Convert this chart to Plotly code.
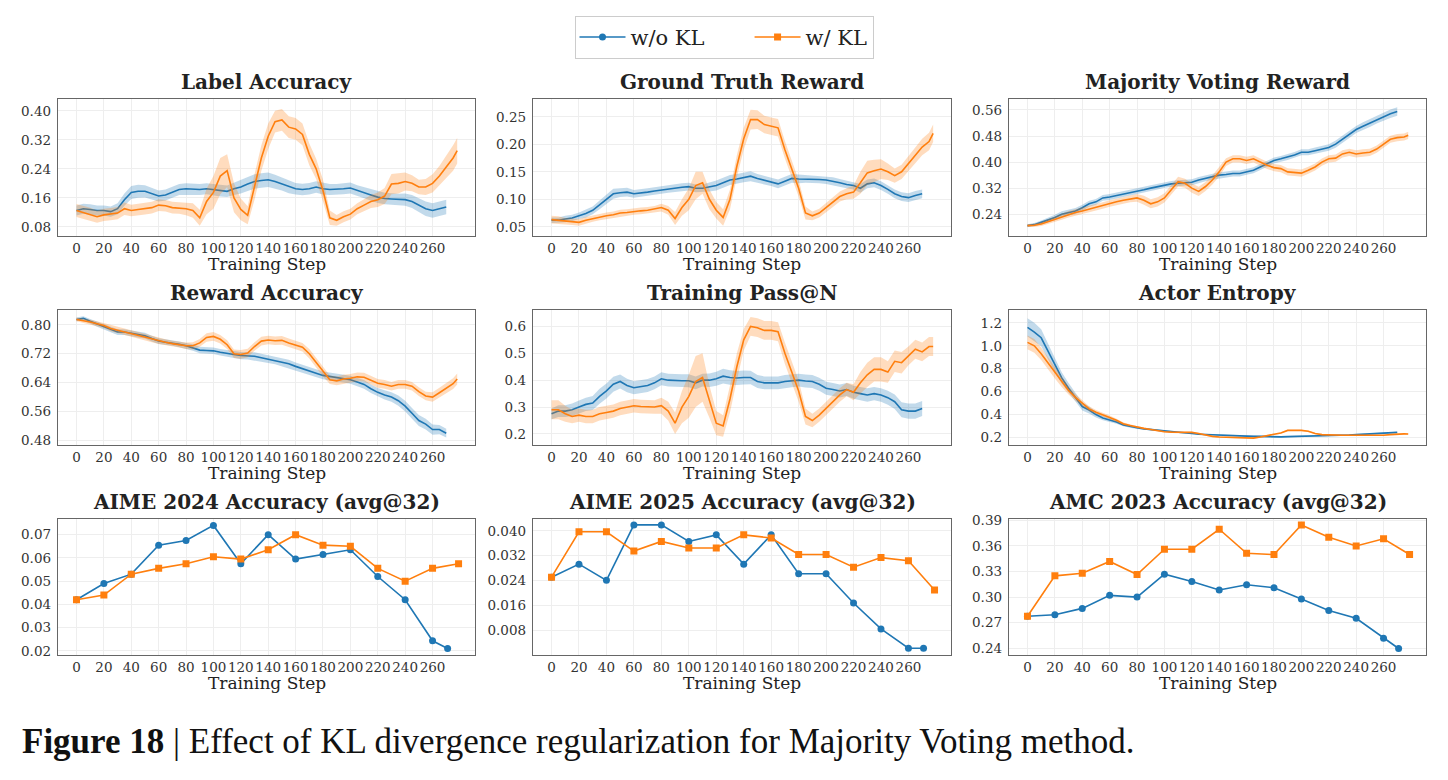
import plotly.graph_objects as go

# ---------------- data ----------------
STEPS_WO = list(range(0, 271, 5))            # training steps, w/o KL
STEPS_W = list(range(0, 276, 5)) + [278]     # training steps, w/ KL
EVAL_WO = [0, 20, 40, 60, 80, 100, 120, 140, 160, 180, 200, 220, 240, 260, 271]
EVAL_W = [0, 20, 40, 60, 80, 100, 120, 140, 160, 180, 200, 220, 240, 260, 279]

# Label Accuracy
label_acc_wo = [0.125, 0.130, 0.128, 0.125, 0.125, 0.122, 0.130, 0.155, 0.175, 0.178,
                0.178, 0.172, 0.165, 0.168, 0.175, 0.183, 0.185, 0.183, 0.183, 0.185,
                0.183, 0.180, 0.178, 0.185, 0.190, 0.198, 0.205, 0.208, 0.210, 0.205,
                0.198, 0.190, 0.185, 0.183, 0.185, 0.190, 0.185, 0.183, 0.183, 0.185,
                0.187, 0.180, 0.175, 0.168, 0.162, 0.158, 0.157, 0.155, 0.155, 0.150,
                0.140, 0.130, 0.125, 0.130, 0.135]
label_acc_wo_sd = [0.014, 0.014, 0.014, 0.014, 0.014, 0.014, 0.015, 0.017, 0.018, 0.018,
                   0.017, 0.016, 0.015, 0.015, 0.015, 0.015, 0.015, 0.015, 0.015, 0.015,
                   0.016, 0.016, 0.016, 0.017, 0.018, 0.019, 0.020, 0.020, 0.020, 0.019,
                   0.018, 0.017, 0.016, 0.016, 0.016, 0.016, 0.016, 0.015, 0.015, 0.015,
                   0.015, 0.015, 0.015, 0.016, 0.016, 0.016, 0.016, 0.016, 0.017, 0.018,
                   0.019, 0.020, 0.020, 0.020, 0.020]
label_acc_w = [0.125, 0.120, 0.115, 0.108, 0.113, 0.115, 0.118, 0.130, 0.125, 0.128,
               0.130, 0.133, 0.140, 0.138, 0.133, 0.132, 0.130, 0.125, 0.105, 0.150,
               0.175, 0.220, 0.235, 0.160, 0.128, 0.112, 0.190, 0.270, 0.330, 0.370,
               0.375, 0.355, 0.350, 0.335, 0.280, 0.240, 0.180, 0.105, 0.098, 0.108,
               0.115, 0.130, 0.140, 0.150, 0.155, 0.165, 0.198, 0.200, 0.205, 0.200,
               0.190, 0.190, 0.200, 0.220, 0.245, 0.270, 0.290]
label_acc_w_sd = [0.018, 0.018, 0.018, 0.017, 0.017, 0.017, 0.017, 0.017, 0.016, 0.016,
                  0.016, 0.016, 0.016, 0.016, 0.016, 0.016, 0.018, 0.020, 0.022, 0.035,
                  0.045, 0.050, 0.045, 0.040, 0.030, 0.025, 0.035, 0.035, 0.035, 0.030,
                  0.030, 0.030, 0.030, 0.030, 0.030, 0.028, 0.030, 0.020, 0.015, 0.015,
                  0.015, 0.015, 0.016, 0.018, 0.020, 0.022, 0.028, 0.028, 0.025, 0.022,
                  0.020, 0.022, 0.025, 0.028, 0.030, 0.035, 0.035]

# Ground Truth Reward
gt_reward_wo = [0.062, 0.062, 0.064, 0.066, 0.070, 0.074, 0.080, 0.090, 0.100, 0.110,
                0.112, 0.113, 0.110, 0.111, 0.113, 0.115, 0.117, 0.119, 0.120, 0.122,
                0.123, 0.120, 0.120, 0.122, 0.125, 0.130, 0.135, 0.137, 0.140, 0.142,
                0.138, 0.135, 0.132, 0.128, 0.133, 0.138, 0.137, 0.137, 0.137, 0.136,
                0.135, 0.133, 0.130, 0.127, 0.125, 0.120, 0.128, 0.130, 0.125, 0.118,
                0.110, 0.105, 0.103, 0.107, 0.110]
gt_reward_wo_sd = [0.005, 0.005, 0.006, 0.006, 0.006, 0.007, 0.007, 0.008, 0.009, 0.009,
                   0.008, 0.008, 0.007, 0.007, 0.007, 0.007, 0.007, 0.007, 0.007, 0.007,
                   0.007, 0.007, 0.007, 0.008, 0.009, 0.009, 0.009, 0.009, 0.009, 0.009,
                   0.008, 0.008, 0.008, 0.008, 0.008, 0.008, 0.008, 0.007, 0.007, 0.007,
                   0.007, 0.007, 0.007, 0.007, 0.007, 0.008, 0.008, 0.008, 0.008, 0.008,
                   0.008, 0.008, 0.008, 0.008, 0.008]
gt_reward_w = [0.063, 0.062, 0.060, 0.059, 0.058, 0.062, 0.065, 0.068, 0.070, 0.072,
               0.075, 0.076, 0.078, 0.079, 0.080, 0.082, 0.085, 0.080, 0.065, 0.085,
               0.100, 0.125, 0.130, 0.100, 0.080, 0.067, 0.100, 0.160, 0.210, 0.245,
               0.245, 0.236, 0.233, 0.230, 0.190, 0.155, 0.120, 0.075, 0.070, 0.075,
               0.085, 0.095, 0.105, 0.110, 0.113, 0.130, 0.148, 0.152, 0.155, 0.150,
               0.143, 0.150, 0.165, 0.180, 0.195, 0.205, 0.220]
gt_reward_w_sd = [0.007, 0.007, 0.006, 0.006, 0.006, 0.006, 0.006, 0.006, 0.006, 0.006,
                  0.006, 0.006, 0.006, 0.006, 0.006, 0.006, 0.007, 0.008, 0.012, 0.015,
                  0.020, 0.025, 0.020, 0.018, 0.015, 0.015, 0.018, 0.020, 0.020, 0.018,
                  0.017, 0.016, 0.016, 0.016, 0.016, 0.015, 0.015, 0.012, 0.008, 0.008,
                  0.008, 0.009, 0.009, 0.010, 0.012, 0.020, 0.022, 0.020, 0.018, 0.015,
                  0.013, 0.013, 0.014, 0.015, 0.015, 0.016, 0.016]

# Majority Voting Reward
mv_reward_wo = [0.205, 0.208, 0.215, 0.222, 0.230, 0.240, 0.245, 0.250, 0.260, 0.272,
                0.278, 0.290, 0.293, 0.297, 0.302, 0.306, 0.310, 0.315, 0.320, 0.325,
                0.330, 0.333, 0.335, 0.337, 0.338, 0.345, 0.350, 0.355, 0.360, 0.362,
                0.365, 0.365, 0.370, 0.375, 0.385, 0.395, 0.405, 0.410, 0.415, 0.422,
                0.430, 0.430, 0.435, 0.440, 0.445, 0.455, 0.470, 0.485, 0.500, 0.510,
                0.520, 0.530, 0.540, 0.548, 0.555]
mv_reward_wo_sd = [0.004, 0.005, 0.006, 0.007, 0.008, 0.009, 0.009, 0.009, 0.009, 0.009,
                   0.009, 0.009, 0.009, 0.009, 0.009, 0.009, 0.009, 0.009, 0.009, 0.009,
                   0.009, 0.009, 0.009, 0.009, 0.009, 0.009, 0.009, 0.009, 0.009, 0.009,
                   0.009, 0.009, 0.009, 0.009, 0.009, 0.009, 0.009, 0.009, 0.009, 0.009,
                   0.009, 0.009, 0.010, 0.010, 0.010, 0.011, 0.011, 0.011, 0.011, 0.012,
                   0.012, 0.012, 0.013, 0.013, 0.013]
mv_reward_w = [0.205, 0.206, 0.210, 0.217, 0.225, 0.232, 0.240, 0.245, 0.250, 0.256,
               0.262, 0.267, 0.273, 0.278, 0.283, 0.287, 0.290, 0.283, 0.272, 0.278,
               0.290, 0.315, 0.340, 0.335, 0.320, 0.310, 0.325, 0.345, 0.370, 0.400,
               0.410, 0.410, 0.405, 0.410, 0.400, 0.390, 0.383, 0.380, 0.370, 0.368,
               0.366, 0.375, 0.385, 0.400, 0.410, 0.412, 0.425, 0.430, 0.425, 0.428,
               0.430, 0.440, 0.455, 0.470, 0.475, 0.477, 0.482]
mv_reward_w_sd = [0.004, 0.005, 0.006, 0.007, 0.008, 0.009, 0.010, 0.010, 0.010, 0.010,
                  0.010, 0.010, 0.010, 0.010, 0.010, 0.010, 0.012, 0.014, 0.014, 0.014,
                  0.014, 0.015, 0.015, 0.014, 0.014, 0.014, 0.014, 0.014, 0.014, 0.012,
                  0.011, 0.011, 0.011, 0.011, 0.011, 0.011, 0.011, 0.011, 0.011, 0.011,
                  0.011, 0.011, 0.011, 0.011, 0.011, 0.011, 0.011, 0.011, 0.011, 0.011,
                  0.011, 0.011, 0.011, 0.011, 0.011, 0.011, 0.011]

# Reward Accuracy
rew_acc_wo = [0.815, 0.818, 0.810, 0.802, 0.795, 0.787, 0.780, 0.780, 0.777, 0.773,
              0.770, 0.762, 0.755, 0.752, 0.750, 0.746, 0.742, 0.737, 0.730, 0.729,
              0.728, 0.724, 0.720, 0.718, 0.715, 0.714, 0.713, 0.709, 0.705, 0.702,
              0.698, 0.692, 0.685, 0.678, 0.672, 0.666, 0.660, 0.657, 0.655, 0.651,
              0.648, 0.642, 0.635, 0.623, 0.613, 0.606, 0.600, 0.590, 0.575, 0.555,
              0.535, 0.525, 0.510, 0.510, 0.500]
rew_acc_wo_sd = [0.005, 0.006, 0.006, 0.007, 0.007, 0.008, 0.008, 0.008, 0.008, 0.008,
                 0.008, 0.008, 0.008, 0.008, 0.008, 0.008, 0.008, 0.009, 0.009, 0.009,
                 0.009, 0.009, 0.010, 0.010, 0.010, 0.010, 0.011, 0.011, 0.011, 0.011,
                 0.011, 0.011, 0.011, 0.011, 0.011, 0.011, 0.011, 0.011, 0.011, 0.011,
                 0.011, 0.011, 0.012, 0.012, 0.012, 0.013, 0.013, 0.014, 0.015, 0.015,
                 0.015, 0.015, 0.014, 0.013, 0.012]
rew_acc_w = [0.815, 0.812, 0.808, 0.803, 0.798, 0.790, 0.785, 0.780, 0.775, 0.770,
             0.765, 0.760, 0.755, 0.752, 0.748, 0.745, 0.742, 0.742, 0.750, 0.765,
             0.768, 0.760, 0.745, 0.720, 0.718, 0.722, 0.740, 0.755, 0.758, 0.756,
             0.757, 0.750, 0.745, 0.738, 0.720, 0.695, 0.670, 0.648, 0.645, 0.650,
             0.652, 0.656, 0.655, 0.647, 0.638, 0.635, 0.630, 0.635, 0.635, 0.630,
             0.615, 0.603, 0.600, 0.612, 0.625, 0.637, 0.650]
rew_acc_w_sd = [0.005, 0.006, 0.006, 0.007, 0.007, 0.008, 0.008, 0.008, 0.008, 0.008,
                0.008, 0.008, 0.008, 0.008, 0.008, 0.008, 0.009, 0.010, 0.011, 0.012,
                0.012, 0.012, 0.012, 0.012, 0.012, 0.012, 0.012, 0.012, 0.012, 0.012,
                0.012, 0.012, 0.012, 0.012, 0.013, 0.013, 0.013, 0.012, 0.012, 0.012,
                0.012, 0.012, 0.012, 0.012, 0.012, 0.012, 0.012, 0.012, 0.012, 0.012,
                0.012, 0.012, 0.013, 0.014, 0.014, 0.015, 0.015]

# Training Pass@N
pass_n_wo = [0.275, 0.285, 0.285, 0.290, 0.300, 0.310, 0.315, 0.340, 0.360, 0.385,
             0.395, 0.380, 0.372, 0.375, 0.380, 0.390, 0.405, 0.400, 0.398, 0.398,
             0.398, 0.390, 0.400, 0.400, 0.405, 0.415, 0.410, 0.408, 0.410, 0.410,
             0.395, 0.390, 0.390, 0.390, 0.395, 0.398, 0.400, 0.397, 0.395, 0.385,
             0.370, 0.365, 0.360, 0.365, 0.355, 0.350, 0.345, 0.350, 0.345, 0.335,
             0.320, 0.290, 0.285, 0.285, 0.295]
pass_n_wo_sd = [0.020, 0.022, 0.022, 0.023, 0.024, 0.025, 0.026, 0.028, 0.028, 0.028,
                0.026, 0.025, 0.024, 0.024, 0.024, 0.024, 0.024, 0.024, 0.024, 0.024,
                0.024, 0.024, 0.024, 0.025, 0.026, 0.027, 0.027, 0.026, 0.026, 0.025,
                0.024, 0.024, 0.024, 0.024, 0.024, 0.024, 0.024, 0.024, 0.024, 0.024,
                0.024, 0.024, 0.024, 0.024, 0.024, 0.025, 0.025, 0.025, 0.025, 0.026,
                0.027, 0.028, 0.028, 0.028, 0.028]
pass_n_w = [0.290, 0.290, 0.275, 0.265, 0.270, 0.265, 0.265, 0.275, 0.280, 0.285,
            0.295, 0.300, 0.305, 0.302, 0.300, 0.300, 0.305, 0.285, 0.240, 0.300,
            0.340, 0.395, 0.410, 0.320, 0.240, 0.230, 0.330, 0.450, 0.550, 0.600,
            0.595, 0.585, 0.585, 0.580, 0.500, 0.430, 0.360, 0.265, 0.250, 0.270,
            0.295, 0.320, 0.345, 0.365, 0.355, 0.390, 0.420, 0.440, 0.440, 0.430,
            0.470, 0.465, 0.490, 0.515, 0.505, 0.525, 0.525]
pass_n_w_sd = [0.035, 0.035, 0.030, 0.025, 0.025, 0.025, 0.025, 0.025, 0.025, 0.025,
               0.025, 0.025, 0.025, 0.025, 0.025, 0.025, 0.030, 0.035, 0.040, 0.060,
               0.080, 0.095, 0.090, 0.060, 0.045, 0.040, 0.050, 0.050, 0.040, 0.035,
               0.035, 0.035, 0.035, 0.035, 0.040, 0.040, 0.040, 0.030, 0.025, 0.025,
               0.025, 0.025, 0.025, 0.025, 0.030, 0.040, 0.045, 0.045, 0.045, 0.040,
               0.040, 0.040, 0.035, 0.035, 0.035, 0.035, 0.035]

# Actor Entropy
entropy_wo = [1.160, 1.120, 1.070, 0.950, 0.830, 0.720, 0.630, 0.550, 0.470, 0.440,
              0.400, 0.370, 0.355, 0.335, 0.310, 0.295, 0.285, 0.275, 0.270, 0.262,
              0.255, 0.250, 0.245, 0.240, 0.235, 0.228, 0.225, 0.222, 0.220, 0.218,
              0.215, 0.212, 0.210, 0.210, 0.210, 0.207, 0.205, 0.206, 0.208, 0.209,
              0.210, 0.212, 0.213, 0.214, 0.215, 0.218, 0.220, 0.222, 0.225, 0.228,
              0.230, 0.235, 0.240, 0.243, 0.245]
entropy_wo_sd = [0.080, 0.080, 0.075, 0.070, 0.060, 0.050, 0.045, 0.040, 0.035, 0.030,
                 0.025, 0.020, 0.018, 0.015, 0.012, 0.010, 0.010, 0.008, 0.008, 0.007,
                 0.006, 0.006, 0.006, 0.006, 0.006, 0.006, 0.006, 0.006, 0.006, 0.006,
                 0.006, 0.006, 0.006, 0.006, 0.006, 0.006, 0.006, 0.006, 0.006, 0.006,
                 0.006, 0.006, 0.006, 0.006, 0.006, 0.006, 0.006, 0.006, 0.006, 0.006,
                 0.006, 0.006, 0.006, 0.006, 0.006]
entropy_w = [1.030, 1.000, 0.930, 0.850, 0.760, 0.680, 0.610, 0.550, 0.500, 0.450,
             0.420, 0.400, 0.375, 0.350, 0.320, 0.305, 0.290, 0.280, 0.270, 0.260,
             0.250, 0.247, 0.245, 0.245, 0.245, 0.235, 0.220, 0.210, 0.205, 0.202,
             0.200, 0.199, 0.198, 0.195, 0.205, 0.215, 0.225, 0.240, 0.262, 0.263,
             0.262, 0.255, 0.235, 0.225, 0.222, 0.221, 0.220, 0.220, 0.220, 0.219,
             0.218, 0.219, 0.220, 0.225, 0.230, 0.232, 0.230]
entropy_w_sd = [0.060, 0.060, 0.055, 0.050, 0.045, 0.040, 0.035, 0.030, 0.025, 0.022,
                0.020, 0.018, 0.016, 0.014, 0.012, 0.010, 0.008, 0.008, 0.007, 0.007,
                0.006, 0.006, 0.006, 0.006, 0.006, 0.006, 0.006, 0.006, 0.006, 0.006,
                0.006, 0.006, 0.006, 0.006, 0.006, 0.006, 0.006, 0.006, 0.006, 0.006,
                0.006, 0.006, 0.006, 0.006, 0.006, 0.006, 0.006, 0.006, 0.006, 0.006,
                0.006, 0.006, 0.006, 0.006, 0.006, 0.006, 0.006]

# Evaluation benchmarks (avg@32)
aime24_wo = [0.042, 0.049, 0.053, 0.0655, 0.0675, 0.074, 0.0575, 0.070, 0.0595, 0.0615,
             0.0635, 0.052, 0.042, 0.0243, 0.021]
aime24_w = [0.042, 0.044, 0.053, 0.0555, 0.0575, 0.0605, 0.0595, 0.0635, 0.070, 0.0655,
            0.065, 0.0555, 0.050, 0.0555, 0.0575]
aime25_wo = [0.0251, 0.0293, 0.0241, 0.0419, 0.0419, 0.0366, 0.0387, 0.0293, 0.0387, 0.0262,
             0.0262, 0.0168, 0.0085, 0.0023, 0.0023]
aime25_w = [0.0251, 0.0397, 0.0397, 0.0335, 0.0366, 0.0345, 0.0345, 0.0387, 0.0377, 0.0324,
            0.0324, 0.0283, 0.0314, 0.0304, 0.0210]
amc23_wo = [0.2774, 0.2793, 0.2867, 0.302, 0.300, 0.3268, 0.3183, 0.3083, 0.3144, 0.311,
            0.2978, 0.2843, 0.2751, 0.2516, 0.2396]
amc23_w = [0.2774, 0.3249, 0.3279, 0.3418, 0.3264, 0.3561, 0.3561, 0.3796, 0.3514, 0.3499,
           0.3846, 0.3703, 0.360, 0.3684, 0.3499]

SERIES_NAMES = ["w/o KL", "w/ KL"]
TITLES = ["Label Accuracy", "Ground Truth Reward", "Majority Voting Reward",
          "Reward Accuracy", "Training Pass@N", "Actor Entropy",
          "AIME 2024 Accuracy (avg@32)", "AIME 2025 Accuracy (avg@32)",
          "AMC 2023 Accuracy (avg@32)"]
X_TICKS = [0, 20, 40, 60, 80, 100, 120, 140, 160, 180, 200, 220, 240, 260]
Y_TICKS = [
    [0.08, 0.16, 0.24, 0.32, 0.40],
    [0.05, 0.10, 0.15, 0.20, 0.25],
    [0.24, 0.32, 0.40, 0.48, 0.56],
    [0.48, 0.56, 0.64, 0.72, 0.80],
    [0.2, 0.3, 0.4, 0.5, 0.6],
    [0.2, 0.4, 0.6, 0.8, 1.0, 1.2],
    [0.02, 0.03, 0.04, 0.05, 0.06, 0.07],
    [0.008, 0.016, 0.024, 0.032, 0.040],
    [0.24, 0.27, 0.30, 0.33, 0.36, 0.39],
]
Y_FMT = ["{:.2f}", "{:.2f}", "{:.2f}", "{:.2f}", "{:.1f}", "{:.1f}", "{:.2f}", "{:.3f}", "{:.2f}"]
Y_RANGES = [[0.0555, 0.4335], [0.0337, 0.283], [0.174, 0.5945],
            [0.468, 0.842], [0.160, 0.662], [0.137, 1.315],
            [0.0183, 0.0769], [0.0002, 0.0439], [0.2323, 0.392]]
X_RANGE = [-13.5, 291]

# ---------------- styling / layout ----------------
W, H = 1448, 780
BLUE = "#1f77b4"
ORANGE = "#ff7f0e"
BLUE_FILL = "rgba(31,119,180,0.27)"
ORANGE_FILL = "rgba(255,127,14,0.27)"
FONT = "DejaVu Serif"

COLS_PX = [(58, 475), (533, 951), (1009, 1426)]
ROWS_PX = [(93, 232), (307, 444), (519, 657)]

fig = go.Figure()


def ax_names(k):
    return ("x" if k == 1 else f"x{k}"), ("y" if k == 1 else f"y{k}")


def add_band(k, xs, mean, sd, fill, line_color):
    xa, ya = ax_names(k)
    upper = [m + s for m, s in zip(mean, sd)]
    lower = [m - s for m, s in zip(mean, sd)]
    fig.add_trace(go.Scatter(x=list(xs) + list(xs)[::-1], y=upper + lower[::-1],
                             fill="toself", fillcolor=fill, line=dict(width=0),
                             mode="lines", hoverinfo="skip", showlegend=False,
                             xaxis=xa, yaxis=ya))
    fig.add_trace(go.Scatter(x=xs, y=mean, mode="lines",
                             line=dict(color=line_color, width=1.6),
                             showlegend=False, xaxis=xa, yaxis=ya))


training = [
    (label_acc_wo, label_acc_wo_sd, label_acc_w, label_acc_w_sd),
    (gt_reward_wo, gt_reward_wo_sd, gt_reward_w, gt_reward_w_sd),
    (mv_reward_wo, mv_reward_wo_sd, mv_reward_w, mv_reward_w_sd),
    (rew_acc_wo, rew_acc_wo_sd, rew_acc_w, rew_acc_w_sd),
    (pass_n_wo, pass_n_wo_sd, pass_n_w, pass_n_w_sd),
    (entropy_wo, entropy_wo_sd, entropy_w, entropy_w_sd),
]
for i, (mwo, swo, mw, sw) in enumerate(training):
    assert len(mwo) == len(STEPS_WO) == len(swo), (i, len(mwo), len(swo))
    assert len(mw) == len(STEPS_W) == len(sw), (i, len(mw), len(sw))
    k = i + 1
    add_band(k, STEPS_WO, mwo, swo, BLUE_FILL, BLUE)
    add_band(k, STEPS_W, mw, sw, ORANGE_FILL, ORANGE)

NBSP = "\u00a0"
evals = [(aime24_wo, aime24_w), (aime25_wo, aime25_w), (amc23_wo, amc23_w)]
for j, (ewo, ew) in enumerate(evals):
    k = 7 + j
    xa, ya = ax_names(k)
    fig.add_trace(go.Scatter(x=EVAL_WO, y=ewo, mode="lines+markers",
                             name=SERIES_NAMES[0] + NBSP * 6,
                             line=dict(color=BLUE, width=1.6),
                             marker=dict(symbol="circle", size=7, color=BLUE),
                             showlegend=(j == 0), legendgroup="wo",
                             xaxis=xa, yaxis=ya))
    fig.add_trace(go.Scatter(x=EVAL_W, y=ew, mode="lines+markers",
                             name=SERIES_NAMES[1],
                             line=dict(color=ORANGE, width=1.6),
                             marker=dict(symbol="square", size=7, color=ORANGE),
                             showlegend=(j == 0), legendgroup="w",
                             xaxis=xa, yaxis=ya))

layout = dict(
    width=W, height=H, autosize=False,
    margin=dict(l=0, r=0, t=0, b=0),
    paper_bgcolor="white", plot_bgcolor="white",
    font=dict(family=FONT, color="#333333"),
    legend=dict(orientation="h", x=0.5, xanchor="center", y=1 - 9 / H, yanchor="top",
                font=dict(family=FONT, size=21, color="#222222"),
                bgcolor="white", bordercolor="#cccccc", borderwidth=1,
                itemwidth=46, tracegroupgap=0),
)
annotations = []
for k in range(1, 10):
    r, c = (k - 1) // 3, (k - 1) % 3
    x0, x1 = COLS_PX[c]
    y0, y1 = ROWS_PX[r]
    xkey = "xaxis" if k == 1 else f"xaxis{k}"
    ykey = "yaxis" if k == 1 else f"yaxis{k}"
    xa, ya = ax_names(k)
    layout[xkey] = dict(domain=[x0 / W, x1 / W], anchor=ya, range=X_RANGE,
                        tickvals=X_TICKS, ticktext=[str(t) for t in X_TICKS],
                        tickangle=0,
                        showline=True, mirror=True, linecolor="#666666", linewidth=1.4,
                        showgrid=True, gridcolor="#eeeeee", gridwidth=0.8,
                        zeroline=False, ticks="", ticklabelstandoff=0,
                        tickfont=dict(family=FONT, size=13.5, color="#333333"))
    layout[ykey] = dict(domain=[1 - y1 / H, 1 - y0 / H], anchor=xa, range=Y_RANGES[k - 1],
                        tickvals=Y_TICKS[k - 1],
                        ticktext=[Y_FMT[k - 1].format(v) for v in Y_TICKS[k - 1]],
                        showline=True, mirror=True, linecolor="#666666", linewidth=1.4,
                        showgrid=True, gridcolor="#eeeeee", gridwidth=0.8,
                        zeroline=False, ticks="", ticklabelstandoff=3,
                        tickfont=dict(family=FONT, size=13.5, color="#333333"))
    cx = (x0 + x1) / 2 / W
    annotations.append(dict(text=f"<b>{TITLES[k - 1]}</b>", x=cx, xref="paper",
                            y=1 - (y0 - 17) / H, yref="paper", xanchor="center",
                            yanchor="middle", showarrow=False,
                            font=dict(family=FONT, size=20, color="#222222")))
    annotations.append(dict(text="Training Step", x=cx, xref="paper",
                            y=1 - (y1 + 29) / H, yref="paper", xanchor="center",
                            yanchor="middle", showarrow=False,
                            font=dict(family=FONT, size=17, color="#222222")))

annotations.append(dict(
    text="<b>Figure 18</b> | Effect of KL divergence regularization for Majority Voting method.",
    x=20 / W, xref="paper", y=1 - 745 / H, yref="paper", xanchor="left", yanchor="middle",
    showarrow=False, font=dict(family="Liberation Serif", size=35, color="#111111")))
layout["annotations"] = annotations

fig.update_layout(**layout)
fig.write_html("out.html")
